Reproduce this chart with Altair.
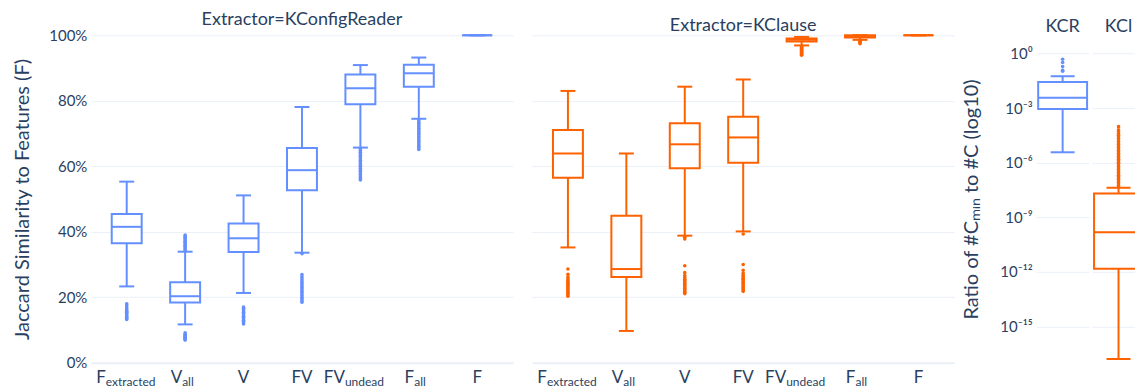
import altair as alt
import pandas as pd

# ---------------------------------------------------------------
# Category axis: main label + subscript
# ---------------------------------------------------------------
CATS = ["F_extracted", "V_all", "V", "FV", "FV_undead", "F_all", "F"]
LABEL_MAIN = ["F", "V", "V", "FV", "FV", "F", "F"]
LABEL_SUB = ["extracted", "all", "", "", "undead", "all", ""]

# ---------------------------------------------------------------
# Jaccard similarity to features, extractor = KConfigReader
# (whisker low, Q1, median, Q3, whisker high)
# ---------------------------------------------------------------
kcr_low = [0.233, 0.117, 0.213, 0.336, 0.657, 0.745, 1.0]
kcr_q1 = [0.365, 0.184, 0.338, 0.527, 0.789, 0.843, 1.0]
kcr_med = [0.415, 0.203, 0.380, 0.588, 0.838, 0.884, 1.0]
kcr_q3 = [0.454, 0.246, 0.425, 0.656, 0.880, 0.910, 1.0]
kcr_high = [0.553, 0.339, 0.511, 0.781, 0.909, 0.932, 1.0]

kcr_out_fext = [0.132, 0.136, 0.139, 0.143, 0.146, 0.150, 0.154, 0.157, 0.161,
                0.165, 0.170, 0.176, 0.180]
kcr_out_vall = [0.069, 0.072, 0.075, 0.078, 0.081, 0.084, 0.087, 0.091,
                0.343, 0.347, 0.351, 0.355, 0.359, 0.363, 0.367, 0.371, 0.375,
                0.379, 0.383, 0.387, 0.390]
kcr_out_v = [0.118, 0.122, 0.126, 0.130, 0.134, 0.138, 0.142, 0.146, 0.150,
             0.154, 0.158, 0.162, 0.166, 0.170]
kcr_out_fv = [0.185, 0.190, 0.195, 0.200, 0.205, 0.210, 0.215, 0.220, 0.225,
              0.230, 0.235, 0.240, 0.245, 0.250, 0.256, 0.262, 0.269, 0.333]
kcr_out_fvu = [0.558, 0.563, 0.568, 0.573, 0.578, 0.583, 0.588, 0.593, 0.598,
               0.603, 0.608, 0.613, 0.618, 0.623, 0.628, 0.633, 0.638, 0.643,
               0.648, 0.653]
kcr_out_fall = [0.651, 0.656, 0.661, 0.666, 0.671, 0.676, 0.681, 0.686, 0.691,
                0.696, 0.701, 0.706, 0.711, 0.716, 0.721, 0.726, 0.731, 0.736,
                0.741]
kcr_out_f = []

# ---------------------------------------------------------------
# Jaccard similarity to features, extractor = KClause
# ---------------------------------------------------------------
kcl_low = [0.352, 0.097, 0.388, 0.401, 0.969, 0.986, 1.0]
kcl_q1 = [0.565, 0.262, 0.594, 0.611, 0.981, 0.993, 1.0]
kcl_med = [0.639, 0.286, 0.667, 0.688, 0.986, 0.997, 1.0]
kcl_q3 = [0.711, 0.449, 0.731, 0.751, 0.990, 1.0, 1.0]
kcl_high = [0.830, 0.639, 0.843, 0.865, 0.995, 1.0, 1.0]

kcl_out_fext = [0.203, 0.207, 0.211, 0.215, 0.219, 0.223, 0.227, 0.231, 0.235,
                0.239, 0.243, 0.247, 0.251, 0.256, 0.262, 0.270, 0.286]
kcl_out_vall = []
kcl_out_v = [0.211, 0.215, 0.219, 0.223, 0.227, 0.231, 0.235, 0.239, 0.243,
             0.247, 0.251, 0.255, 0.260, 0.266, 0.275, 0.296, 0.378, 0.383]
kcl_out_fv = [0.218, 0.222, 0.226, 0.230, 0.234, 0.238, 0.242, 0.246, 0.250,
              0.254, 0.258, 0.262, 0.267, 0.273, 0.282, 0.300, 0.393]
kcl_out_fvu = [0.939, 0.942, 0.945, 0.948, 0.951, 0.954, 0.957, 0.960, 0.963,
               0.966]
kcl_out_fall = [0.974, 0.977, 0.980, 0.982, 0.984]
kcl_out_f = []

# ---------------------------------------------------------------
# Ratio of #C_min to #C per extractor (log scale)
# ---------------------------------------------------------------
ratio_extractors = ["KCR", "KCl"]
ratio_low = [3.7e-6, 1.6e-17]
ratio_q1 = [8.9e-4, 1.45e-12]
ratio_med = [3.7e-3, 1.5e-10]
ratio_q3 = [2.7e-2, 2.0e-8]
ratio_high = [5.6e-2, 4.1e-8]

ratio_out_kcr = [0.105, 0.12, 0.19, 0.32, 0.48]
ratio_out_kcl = [4.6e-8, 5.5e-8, 6.6e-8, 8.0e-8, 9.6e-8, 1.15e-7, 1.4e-7,
                 1.7e-7, 2.0e-7, 2.4e-7, 2.9e-7, 3.5e-7, 4.2e-7, 5.0e-7,
                 6.0e-7, 7.3e-7, 8.8e-7, 1.05e-6, 1.3e-6, 1.55e-6, 1.85e-6,
                 2.2e-6, 2.7e-6, 3.2e-6, 3.9e-6, 4.7e-6, 5.6e-6, 6.8e-6,
                 8.2e-6, 9.8e-6, 1.2e-5, 1.45e-5, 1.75e-5, 2.1e-5, 2.6e-5,
                 3.2e-5, 4.0e-5, 5.2e-5, 6.3e-5, 9.5e-5]

# ---------------------------------------------------------------
# Styling
# ---------------------------------------------------------------
BLUE = "#648FFF"
ORANGE = "#FE6100"
TEXT = "#2a3f5f"
GRID = "#EBF0F8"
FONT = "Lato"

PANEL_W = 423
SMALL_W = 53          # full width of a ratio column
SMALL_W_VISIBLE = 43  # the last column runs off the right edge
PANEL_H = 328

# horizontal split point (px from band centre) between main text and subscript
LABEL_SPLIT = {"F_extracted": -21, "V_all": -3, "FV_undead": -15.5, "F_all": -4.6}


def stats_frame(cats, low, q1, med, q3, high):
    return pd.DataFrame({"cat": cats, "low": low, "q1": q1, "median": med,
                         "q3": q3, "high": high})


def outlier_frame(cats, lists):
    rows = [(c, v) for c, vals in zip(cats, lists) for v in vals]
    return pd.DataFrame(rows, columns=["cat", "value"])


def box_layers(stats, outliers, color, box_w, cap_w, xscale, yscale, yaxis,
               clip=False):
    x = alt.X("cat:N", scale=xscale, axis=None)
    base = alt.Chart(stats)
    whisk_lo = base.mark_rule(color=color, strokeWidth=2, clip=clip).encode(
        x=x, y=alt.Y("low:Q", scale=yscale, axis=yaxis), y2="q1:Q")
    whisk_hi = base.mark_rule(color=color, strokeWidth=2, clip=clip).encode(
        x=x, y="q3:Q", y2="high:Q")
    box = base.mark_bar(fill="white", stroke=color, strokeWidth=2,
                        size=box_w, clip=clip).encode(x=x, y="q1:Q", y2="q3:Q")
    med = base.mark_tick(color=color, size=box_w, thickness=2, opacity=1,
                         clip=clip).encode(x=x, y="median:Q")
    cap_lo = base.mark_tick(color=color, size=cap_w, thickness=2, opacity=1,
                            clip=clip).encode(x=x, y="low:Q")
    cap_hi = base.mark_tick(color=color, size=cap_w, thickness=2, opacity=1,
                            clip=clip).encode(x=x, y="high:Q")
    pts = alt.Chart(outliers).mark_circle(color=color, size=13, opacity=1,
                                          clip=clip).encode(x=x, y="value:Q")
    return [whisk_lo, whisk_hi, box, med, cap_lo, cap_hi, pts]


def label_layers(xscale):
    layers = []
    for cat, main, sub in zip(CATS, LABEL_MAIN, LABEL_SUB):
        df = pd.DataFrame({"cat": [cat], "main": [main], "sub": [sub]})
        x = alt.X("cat:N", scale=xscale, axis=None)
        if sub:
            split = LABEL_SPLIT[cat]
            layers.append(alt.Chart(df).mark_text(
                align="right", baseline="alphabetic", dx=split, fontSize=17,
                font=FONT, color=TEXT).encode(
                x=x, y=alt.value(PANEL_H + 20), text="main:N"))
            layers.append(alt.Chart(df).mark_text(
                align="left", baseline="alphabetic", dx=split, fontSize=12,
                font=FONT, color=TEXT).encode(
                x=x, y=alt.value(PANEL_H + 23.5), text="sub:N"))
        else:
            layers.append(alt.Chart(df).mark_text(
                align="center", baseline="alphabetic", fontSize=17,
                font=FONT, color=TEXT).encode(
                x=x, y=alt.value(PANEL_H + 20), text="main:N"))
    return layers


def panel_title(text, dx=0):
    return alt.TitleParams(text, fontSize=18, fontWeight="normal",
                           color=TEXT, font=FONT, anchor="middle",
                           frame="group", offset=-1, dx=dx)


zero_grid = {"condition": {"test": "datum.value === 0", "value": 2}, "value": 1}

cat_scale = alt.Scale(domain=CATS, paddingInner=0, paddingOuter=0.114)
pct_scale = alt.Scale(domain=[0, 1])
pct_ticks = [0, 0.2, 0.4, 0.6, 0.8, 1.0]

pct_axis = alt.Axis(values=pct_ticks, format=".0%", labelFontSize=15,
                    labelColor=TEXT, labelFont=FONT, labelPadding=4,
                    ticks=False, domain=False, gridColor=GRID,
                    gridWidth=zero_grid,
                    title="Jaccard Similarity to Features (F)",
                    titleFontSize=20, titleFontWeight="normal",
                    titleColor=TEXT, titleFont=FONT, titlePadding=16)
pct_axis_bare = alt.Axis(values=pct_ticks, labels=False, ticks=False,
                         domain=False, gridColor=GRID, gridWidth=zero_grid,
                         title=None)

kcr_stats = stats_frame(CATS, kcr_low, kcr_q1, kcr_med, kcr_q3, kcr_high)
kcr_outs = outlier_frame(CATS, [kcr_out_fext, kcr_out_vall, kcr_out_v,
                                kcr_out_fv, kcr_out_fvu, kcr_out_fall,
                                kcr_out_f])
kcl_stats = stats_frame(CATS, kcl_low, kcl_q1, kcl_med, kcl_q3, kcl_high)
kcl_outs = outlier_frame(CATS, [kcl_out_fext, kcl_out_vall, kcl_out_v,
                                kcl_out_fv, kcl_out_fvu, kcl_out_fall,
                                kcl_out_f])

panel_kcr = alt.layer(
    *box_layers(kcr_stats, kcr_outs, BLUE, 30, 15, cat_scale, pct_scale,
                pct_axis),
    *label_layers(cat_scale),
).properties(width=PANEL_W, height=PANEL_H,
             title=panel_title("Extractor=KConfigReader"))

panel_kcl = alt.layer(
    *box_layers(kcl_stats, kcl_outs, ORANGE, 30, 15, cat_scale, pct_scale,
                pct_axis_bare),
    *label_layers(cat_scale),
).properties(width=PANEL_W, height=PANEL_H,
             title=panel_title("Extractor=KClause"))

# ---- log-scale ratio panels ----
LOG_TICKS = [1, 1e-3, 1e-6, 1e-9, 1e-12, 1e-15]
LOG_TEXT = ["10⁰", "10⁻³", "10⁻⁶", "10⁻⁹", "10⁻¹²", "10⁻¹⁵"]
label_expr = "''"
for tick, txt in reversed(list(zip(LOG_TICKS, LOG_TEXT))):
    label_expr = f"datum.value > {tick / 10:g} ? '{txt}' : ({label_expr})"

log_scale = alt.Scale(type="log", domain=[1.0e-17, 3.73])
log_axis = alt.Axis(values=LOG_TICKS, labelExpr=label_expr, labelFontSize=15,
                    labelColor=TEXT, labelFont=FONT, labelPadding=4,
                    ticks=False, domain=False, gridColor=GRID,
                    title="Ratio of #Cₘᵢₙ to #C (log10)", titleFontSize=20,
                    titleFontWeight="normal", titleColor=TEXT,
                    titleFont=FONT, titlePadding=18)
log_axis_bare = alt.Axis(values=LOG_TICKS, labels=False, ticks=False,
                         domain=False, gridColor=GRID, title=None)


def ratio_panel(i, color, outs, axis, width, title_dx=0, clip=False):
    stats = stats_frame([ratio_extractors[i]], [ratio_low[i]], [ratio_q1[i]],
                        [ratio_med[i]], [ratio_q3[i]], [ratio_high[i]])
    out_df = outlier_frame([ratio_extractors[i]], [outs])
    # band always spans a full column, even where the view is cut short
    xs = alt.Scale(domain=[ratio_extractors[i]], paddingInner=0,
                   paddingOuter=0, range=[0, SMALL_W])
    return alt.layer(
        *box_layers(stats, out_df, color, 49, 24, xs, log_scale, axis,
                    clip=clip)
    ).properties(width=width, height=PANEL_H,
                 title=panel_title(ratio_extractors[i], dx=title_dx))


panel_ratio_kcr = ratio_panel(0, BLUE, ratio_out_kcr, log_axis, SMALL_W)
panel_ratio_kcl = ratio_panel(1, ORANGE, ratio_out_kcl, log_axis_bare,
                              SMALL_W_VISIBLE,
                              title_dx=(SMALL_W - SMALL_W_VISIBLE) / 2,
                              clip=True)

chart = alt.hconcat(
    alt.hconcat(panel_kcr, panel_kcl, spacing=19),
    alt.hconcat(panel_ratio_kcr, panel_ratio_kcl, spacing=3),
    spacing=7,
).properties(
    padding={"left": 12, "top": 11, "right": 0, "bottom": 0},
    background="white",
).configure_view(stroke=None)

chart.save("out.html", embed_options={"renderer": "svg", "actions": False})
